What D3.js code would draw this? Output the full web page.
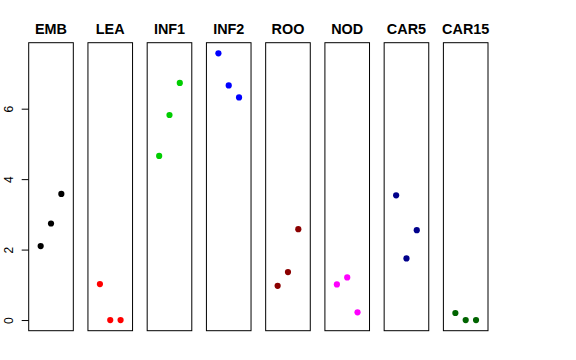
<!DOCTYPE html>
<html>
<head>
<meta charset="utf-8">
<script src="https://cdn.jsdelivr.net/npm/d3@7"></script>
<style>
  body { margin: 0; background: #fff; }
  text { font-family: "Liberation Sans", Arial, sans-serif; }
</style>
</head>
<body>
<div id="chart"></div>
<script>
// panels, one colour each, three points per panel
var panels = ["EMB", "LEA", "INF1", "INF2", "ROO", "NOD", "CAR5", "CAR15"];
var colors = ["#000000", "#FF0000", "#00CD00", "#0000FF", "#8B0000", "#FF00FF", "#00008B", "#006400"];
var xs = [1, 2, 3];
var EMB = [2.10, 2.74, 3.58];
var LEA = [1.02, 0.00, 0.00];
var INF1 = [4.66, 5.82, 6.73];
var INF2 = [7.57, 6.66, 6.32];
var ROO = [0.97, 1.36, 2.58];
var NOD = [1.01, 1.21, 0.22];
var CAR5 = [3.54, 1.75, 2.55];
var CAR15 = [0.20, 0.00, 0.00];
var values = [EMB, LEA, INF1, INF2, ROO, NOD, CAR5, CAR15];
var yTicks = [0, 2, 4, 6];

var width = 576, height = 360;
var plotTop = 42.7, plotBottom = 330.7;

var svg = d3.select("#chart").append("svg")
  .attr("width", width)
  .attr("height", height);

// panel positions
var px = d3.scaleBand()
  .domain(panels)
  .range([28.7, 488])
  .paddingInner(0.247)
  .paddingOuter(0);

// shared y scale, range of data + 4% each side
var all = d3.merge(values);
var lo = d3.min(all), hi = d3.max(all), pad = (hi - lo) * 0.04;
var y = d3.scaleLinear()
  .domain([lo - pad, hi + pad])
  .range([plotBottom, plotTop]);

// x inside a panel, xlim 0..4 with 4% extension
var xIn = d3.scaleLinear()
  .domain([-0.16, 4.16])
  .range([0, px.bandwidth()]);

var g = svg.selectAll("g.panel")
  .data(panels)
  .enter().append("g")
  .attr("class", "panel")
  .attr("transform", function(d) { return "translate(" + px(d) + ",0)"; });

g.append("rect")
  .attr("x", 0)
  .attr("y", plotTop)
  .attr("width", px.bandwidth())
  .attr("height", plotBottom - plotTop)
  .style("fill", "none")
  .style("stroke", "#000")
  .style("stroke-width", 1);

g.append("text")
  .attr("x", px.bandwidth() / 2)
  .attr("y", 34)
  .attr("text-anchor", "middle")
  .style("font-size", "14.4px")
  .style("font-weight", "bold")
  .text(function(d) { return d; });

g.each(function(d, i) {
  d3.select(this).selectAll("circle")
    .data(values[i])
    .enter().append("circle")
    .attr("cx", function(v, j) { return xIn(xs[j]); })
    .attr("cy", function(v) { return y(v); })
    .attr("r", 3.1)
    .style("fill", colors[i]);
});

// left axis on the first panel
var axis = svg.append("g")
  .attr("transform", "translate(" + px(panels[0]) + ",0)")
  .call(d3.axisLeft(y).tickValues(yTicks).tickSize(7).tickFormat(d3.format("d")));
axis.select(".domain").remove();
axis.selectAll("line").style("stroke", "#000");
// rotated labels, reading bottom to top
axis.selectAll("text")
  .style("font-size", "12px")
  .style("font-family", "'Liberation Sans', Arial, sans-serif")
  .attr("transform", "rotate(-90)")
  .attr("x", 0)
  .attr("y", -15.5)
  .attr("dy", "0")
  .attr("text-anchor", "middle");
</script>
</body>
</html>
